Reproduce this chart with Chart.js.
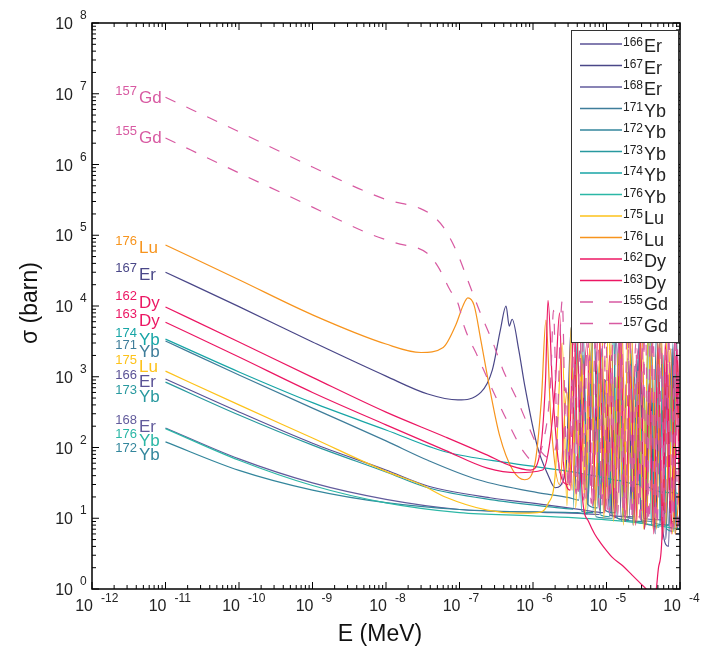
<!DOCTYPE html>
<html>
<head>
<meta charset="utf-8">
<script src="https://cdn.jsdelivr.net/npm/chart.js@4.4.0/dist/chart.umd.min.js"></script>
<style>
  html, body { margin: 0; padding: 0; background: #fff; }
  canvas { display: block; }
</style>
</head>
<body>
<canvas id="myChart" width="705" height="648"></canvas>
<script>
// isotopes in legend order
const massNums = ['166', '167', '168', '171', '172', '173', '174', '176', '175', '176', '162', '163', '155', '157'];
const elements = ['Er', 'Er', 'Er', 'Yb', 'Yb', 'Yb', 'Yb', 'Yb', 'Lu', 'Lu', 'Dy', 'Dy', 'Gd', 'Gd'];

// axis decades
const xDecades = [-12, -11, -10, -9, -8, -7, -6, -5, -4];
const yDecades = [0, 1, 2, 3, 4, 5, 6, 7, 8];

// energies (MeV) and cross sections (barn)
const er166E = [1e-11, 1e-10, 1e-9, 1e-8, 3.7e-8, 2.6e-7, 1.5e-6, 5e-6, 9e-6, 1.05e-5, 1.2e-5, 2.0e-5, 2.5e-5, 3e-5, 4.3e-5, 5.0e-5, 5.8e-5, 7e-5, 7.8e-5, 8.6e-5, 1e-4];
const er166S = [930, 318, 115, 48, 28.6, 19.5, 15.5, 13, 12, 400, 11, 9.5, 1500, 9, 8, 600, 7, 4, 2500, 6, 6];

const er167E = [1e-11, 1e-10, 1e-9, 1e-8, 3.7e-8, 9.5e-8, 1.95e-7, 2.8e-7, 3.6e-7, 4.3e-7, 4.75e-7, 5.2e-7, 6.4e-7, 7.7e-7, 1.15e-6, 1.6e-6, 2.0e-6, 2.8e-6, 3.3e-6, 3.9e-6, 4.8e-6, 5.6e-6, 6.7e-6, 8.0e-6, 9.7e-6, 1.15e-5, 1.35e-5, 1.6e-5, 1.95e-5, 2.3e-5, 2.8e-5, 3.3e-5, 3.9e-5, 4.6e-5, 5.4e-5, 6.4e-5, 7.6e-5, 9e-5, 1e-4];
const er167S = [3.0e4, 9.8e3, 3.1e3, 1.02e3, 570, 470, 600, 1.25e3, 4.6e3, 1.0e4, 5.2e3, 6.5e3, 2.4e3, 760, 102, 41, 27, 48, 5000, 22, 2000, 16, 6000, 13, 900, 11, 4000, 9, 1800, 8, 3500, 7, 1000, 6, 4000, 5, 1500, 7, 12];

const er168E = [1e-11, 1e-10, 1e-9, 1e-8, 1e-7, 1e-6, 5e-6, 8e-6, 9.5e-6, 1.1e-5, 2.4e-5, 2.8e-5, 3.2e-5, 6e-5, 6.8e-5, 7.6e-5, 1e-4];
const er168S = [189, 69, 31.6, 18.5, 13.3, 12.2, 11.6, 11.3, 600, 11, 10.5, 2000, 10, 9.5, 1200, 9, 9];

const yb171E = [1e-11, 1e-10, 1e-9, 1e-8, 3.7e-8, 1.8e-7, 1.15e-6, 3.1e-6, 4.2e-6, 4.8e-6, 5.5e-6, 7.5e-6, 8.5e-6, 9.6e-6, 1.3e-5, 1.5e-5, 1.7e-5, 2.3e-5, 2.6e-5, 3.0e-5, 4.2e-5, 4.8e-5, 5.5e-5, 7e-5, 8e-5, 9e-5, 1e-4];
const yb171S = [3.2e3, 1.06e3, 360, 124, 66, 35, 23, 19.6, 18, 5000, 16, 14, 2500, 13, 12, 6000, 11, 10, 1800, 9.5, 9, 4500, 8.5, 8, 3000, 7.5, 7];

const yb172E = [1e-11, 1e-10, 1e-9, 1e-8, 1e-7, 1e-6, 4e-6, 5.5e-6, 6.3e-6, 7.2e-6, 1.2e-5, 1.45e-5, 1.7e-5, 3.5e-5, 4.0e-5, 4.6e-5, 7e-5, 8e-5, 9e-5, 1e-4];
const yb172S = [120, 47.5, 25, 16.6, 13.3, 12.3, 12, 11.5, 3000, 10.5, 10, 1500, 9.5, 9, 4000, 8.5, 8, 2000, 7.5, 7];

const yb173E = [1e-11, 1e-10, 1e-9, 1e-8, 3.7e-8, 3e-7, 1.7e-6, 3.5e-6, 4.0e-6, 4.6e-6, 6.5e-6, 7.4e-6, 8.4e-6, 1.1e-5, 1.25e-5, 1.4e-5, 1.9e-5, 2.15e-5, 2.4e-5, 3.3e-5, 3.7e-5, 4.1e-5, 5.2e-5, 5.9e-5, 6.6e-5, 8.1e-5, 9e-5, 1e-4];
const yb173S = [840, 288, 108, 45, 27, 18, 14.5, 13.5, 3500, 12.5, 12, 1500, 11, 10.5, 5000, 10, 9.5, 2500, 9, 8.5, 6000, 8, 7.5, 2000, 7, 6.5, 3500, 6];

const yb174E = [1e-11, 1e-10, 1e-9, 1e-8, 6.4e-8, 5e-7, 4e-6, 1.5e-5, 2.8e-5, 3.2e-5, 3.6e-5, 8.3e-5, 1e-4];
const yb174S = [3.4e3, 1.17e3, 430, 177, 87, 60, 44, 34, 30, 800, 28, 23, 22];

const yb176E = [1e-11, 1e-10, 1e-9, 1e-8, 1e-7, 1e-6, 1e-5, 3e-5, 1e-4];
const yb176S = [185, 66, 29, 16.5, 12.0, 10.8, 9.5, 8.5, 7];

const lu175E = [1e-11, 1e-10, 1e-9, 1e-8, 3e-8, 6.4e-8, 2.4e-7, 6e-7, 1.15e-6, 1.6e-6, 2.0e-6, 2.5e-6, 2.9e-6, 3.3e-6, 3.8e-6, 4.6e-6, 5.2e-6, 6.2e-6, 7.0e-6, 8.0e-6, 9.2e-6, 1.06e-5, 1.25e-5, 1.45e-5, 1.7e-5, 2.0e-5, 2.35e-5, 2.7e-5, 3.2e-5, 3.7e-5, 4.3e-5, 5.0e-5, 5.8e-5, 6.8e-5, 7.9e-5, 9.2e-5, 1e-4];
const lu175S = [1.2e3, 400, 136, 46, 30, 20, 13, 11.8, 12, 16, 40, 3000, 15, 5000, 14, 2000, 12, 7000, 11, 1500, 10, 6000, 9, 2500, 8, 8000, 8, 1200, 7, 5000, 7, 3000, 6, 7000, 6, 2000, 8];

const lu176E = [1e-11, 1e-10, 1e-9, 1e-8, 3e-8, 6e-8, 8.9e-8, 1.12e-7, 1.3e-7, 1.58e-7, 1.95e-7, 2.6e-7, 3.5e-7, 5.3e-7, 7.7e-7, 1.05e-6, 1.3e-6, 1.5e-6, 1.75e-6, 2.3e-6, 2.9e-6, 3.4e-6, 4.3e-6, 5.0e-6, 5.9e-6, 7.2e-6, 8.4e-6, 1.0e-5, 1.15e-5, 1.4e-5, 1.6e-5, 1.9e-5, 2.2e-5, 2.6e-5, 3.0e-5, 3.5e-5, 4.1e-5, 4.8e-5, 5.5e-5, 6.4e-5, 7.4e-5, 8.6e-5, 1e-4];
const lu176S = [7.3e4, 2.35e4, 7.5e3, 2.9e3, 2.2e3, 2.6e3, 5.4e3, 1.02e4, 1.3e4, 1.02e4, 3.3e3, 650, 150, 48, 35, 56, 470, 6.3e3, 245, 30, 600, 25, 6000, 20, 2500, 18, 9000, 15, 3000, 12, 7000, 10, 4000, 9, 8000, 8, 3000, 7, 6000, 8, 2500, 6, 40];

const dy162E = [1e-11, 1e-10, 1e-9, 1e-8, 6.4e-8, 2.4e-7, 5e-7, 9.3e-7, 1.23e-6, 1.48e-6, 1.6e-6, 1.85e-6, 2.3e-6, 3.0e-6, 3.6e-6, 4.2e-6, 5.4e-6, 6.5e-6, 7.8e-6, 9.5e-6, 1.1e-5, 1.3e-5, 1.55e-5, 1.8e-5, 2.1e-5, 2.5e-5, 2.9e-5, 3.3e-5, 3.8e-5, 4.4e-5, 5e-5, 5.8e-5, 6.6e-5, 7.6e-5, 8.6e-5, 1e-4];
const dy162S = [9.7e3, 3.1e3, 980, 316, 141, 78, 55, 48, 78, 890, 1.2e4, 650, 48, 30, 6000, 25, 3000, 15, 8000, 12, 2000, 10, 5000, 9, 1500, 8, 4000, 7, 800, 6, 3000, 5, 2000, 6, 5000, 8];

const dy163E = [1e-11, 1e-10, 1e-9, 1e-8, 6.4e-8, 2.4e-7, 6.2e-7, 1.35e-6, 1.65e-6, 2.0e-6, 2.3e-6, 2.6e-6, 3.2e-6, 3.9e-6, 4.7e-6, 5.7e-6, 6.9e-6, 8.3e-6, 1.0e-5, 1.2e-5, 1.6e-5, 2.2e-5, 2.9e-5, 3.6e-5, 4.1e-5, 4.6e-5, 5.1e-5, 5.7e-5, 6.3e-5, 7.2e-5, 8.2e-5, 9.3e-5, 1e-4];
const dy163S = [5.9e3, 1.9e3, 600, 209, 91, 51, 44, 48, 100, 700, 8000, 60, 25, 4000, 20, 9, 6, 4.5, 3.5, 2.8, 2.2, 1.6, 1.2, 0.95, 0.75, 0.8, 2, 6, 3000, 20, 8, 2000, 30];

const gd155E = [1e-11, 1e-10, 1e-9, 5.7e-9, 1.35e-8, 3.6e-8, 5.1e-8, 7.4e-8, 9.5e-8, 1.17e-7, 1.78e-7, 2.7e-7, 4.6e-7, 7.7e-7, 9.8e-7, 1.35e-6, 1.74e-6, 1.9e-6, 2.1e-6, 2.5e-6, 2.8e-6, 3.2e-6, 3.6e-6, 4.1e-6, 4.6e-6, 5.2e-6, 5.9e-6, 6.7e-6, 7.6e-6, 8.6e-6, 9.8e-6, 1.1e-5, 1.25e-5, 1.42e-5, 1.6e-5, 1.8e-5, 2.05e-5, 2.3e-5, 2.6e-5, 2.95e-5, 3.35e-5, 3.8e-5, 4.3e-5, 4.9e-5, 5.5e-5, 6.2e-5, 7e-5, 8e-5, 9e-5, 1e-4];
const gd155S = [2.37e6, 7.6e5, 2.5e5, 1.07e5, 7.8e4, 5.6e4, 3.6e4, 1.7e4, 1.1e4, 5.0e3, 1.9e3, 716, 222, 83, 66, 110, 890, 8.7e3, 200, 30, 700, 25, 3000, 20, 8000, 18, 2000, 15, 6000, 14, 4000, 12, 9000, 11, 3000, 10, 7000, 10, 2500, 9, 8000, 9, 3500, 8, 6000, 8, 4000, 7, 5000, 9];

const gd157E = [1e-11, 1e-10, 1e-9, 1e-8, 2.9e-8, 4.2e-8, 6e-8, 9.2e-8, 1.3e-7, 1.9e-7, 2.86e-7, 3.9e-7, 6.1e-7, 8.3e-7, 1.24e-6, 1.7e-6, 2.1e-6, 2.35e-6, 2.5e-6, 2.75e-6, 3.05e-6, 3.4e-6, 3.85e-6, 4.35e-6, 4.9e-6, 5.5e-6, 6.2e-6, 7.0e-6, 8.0e-6, 9.1e-6, 1.03e-5, 1.17e-5, 1.33e-5, 1.5e-5, 1.7e-5, 1.93e-5, 2.2e-5, 2.5e-5, 2.8e-5, 3.15e-5, 3.55e-5, 4.0e-5, 4.55e-5, 5.2e-5, 5.85e-5, 6.6e-5, 7.5e-5, 8.5e-5, 9.4e-5, 1e-4];
const gd157S = [8.9e6, 2.9e6, 9.2e5, 3.2e5, 2.4e5, 1.93e5, 1.31e5, 5.8e4, 2.3e4, 8.2e3, 3.0e3, 1.26e3, 470, 222, 92, 71, 126, 4.6e3, 1.2e4, 200, 28, 900, 22, 2500, 18, 7000, 16, 3000, 14, 8000, 13, 2000, 12, 6000, 11, 9000, 10, 3000, 10, 5000, 9, 7000, 9, 2500, 8, 6000, 8, 3000, 7, 8];

const seriesE = [er166E, er167E, er168E, yb171E, yb172E, yb173E, yb174E, yb176E, lu175E, lu176E, dy162E, dy163E, gd155E, gd157E];
const seriesS = [er166S, er167S, er168S, yb171S, yb172S, yb173S, yb174S, yb176S, lu175S, lu176S, dy162S, dy163S, gd155S, gd157S];

// styling
const colors = ['#5a5296', '#4a4788', '#625b9c', '#3e7d9a', '#33869c', '#28999f', '#17a5a6', '#2bb7a6',
                '#fdc21a', '#f7941d', '#ec1763', '#ec1763', '#d85aa2', '#d85aa2'];
const dashed = [false, false, false, false, false, false, false, false, false, false, false, false, true, true];
// baseline shift of the left-hand labels relative to the first point of each curve
const labelShift = [8, 8, 4, 16, 18, 20, 6, 17, 1, 8, 1, 4, 5, 6];

const FONT = "'Liberation Sans', Arial, sans-serif";

const datasets = seriesE.map((es, i) => ({
    label: massNums[i] + elements[i],
    data: es.map((e, j) => ({ x: e, y: seriesS[i][j] })),
    borderColor: colors[i],
    borderWidth: 1.2,
    borderDash: dashed[i] ? [11, 12] : [],
    pointRadius: 0,
    fill: false,
    cubicInterpolationMode: 'monotone',
    order: 13 - i
}));

// draws a raised mass number ending at x, then the element symbol starting at x
function superLabel(ctx, x, y, sup, main, supSize, mainSize, supRise) {
    ctx.textBaseline = 'alphabetic';
    ctx.textAlign = 'left';
    ctx.font = supSize + 'px ' + FONT;
    const ws = ctx.measureText(sup).width;
    ctx.fillText(sup, x - ws - 1, y - supRise);
    ctx.font = mainSize + 'px ' + FONT;
    ctx.fillText(main, x + 1, y);
}

const framePlugin = {
    id: 'frame',
    beforeDraw(chart) {
        const c = chart.ctx;
        c.save();
        c.fillStyle = '#fff';
        c.fillRect(0, 0, chart.width, chart.height);
        c.restore();
    },
    afterDatasetsDraw(chart) {
        const { ctx, chartArea: a, scales: { x, y } } = chart;
        ctx.save();

        // frame
        ctx.strokeStyle = '#000';
        ctx.lineWidth = 1.5;
        ctx.strokeRect(a.left, a.top, a.right - a.left, a.bottom - a.top);

        // ticks on all four sides, pointing inwards
        ctx.lineWidth = 1;
        ctx.beginPath();
        xDecades.forEach((d, k) => {
            const px = x.getPixelForValue(Math.pow(10, d));
            ctx.moveTo(px, a.bottom); ctx.lineTo(px, a.bottom - 7);
            ctx.moveTo(px, a.top); ctx.lineTo(px, a.top + 7);
            if (k < xDecades.length - 1) {
                for (let m = 2; m <= 9; m++) {
                    const pm = x.getPixelForValue(m * Math.pow(10, d));
                    ctx.moveTo(pm, a.bottom); ctx.lineTo(pm, a.bottom - 4);
                    ctx.moveTo(pm, a.top); ctx.lineTo(pm, a.top + 4);
                }
            }
        });
        yDecades.forEach((d, k) => {
            const py = y.getPixelForValue(Math.pow(10, d));
            ctx.moveTo(a.left, py); ctx.lineTo(a.left + 7, py);
            ctx.moveTo(a.right, py); ctx.lineTo(a.right - 7, py);
            if (k < yDecades.length - 1) {
                for (let m = 2; m <= 9; m++) {
                    const pm = y.getPixelForValue(m * Math.pow(10, d));
                    ctx.moveTo(a.left, pm); ctx.lineTo(a.left + 4, pm);
                    ctx.moveTo(a.right, pm); ctx.lineTo(a.right - 4, pm);
                }
            }
        });
        ctx.stroke();

        // tick labels: 10 with raised exponent
        ctx.fillStyle = '#222';
        ctx.textBaseline = 'alphabetic';
        xDecades.forEach(d => {
            const px = x.getPixelForValue(Math.pow(10, d));
            ctx.font = '16px ' + FONT;
            ctx.textAlign = 'right';
            ctx.fillText('10', px + 1, a.bottom + 22);
            ctx.font = '12px ' + FONT;
            ctx.textAlign = 'left';
            ctx.fillText('-' + Math.abs(d), px + 9, a.bottom + 13);
        });
        yDecades.forEach(d => {
            const py = y.getPixelForValue(Math.pow(10, d));
            ctx.font = '16px ' + FONT;
            ctx.textAlign = 'right';
            ctx.fillText('10', a.left - 19, py + 6);
            ctx.font = '12px ' + FONT;
            ctx.textAlign = 'left';
            ctx.fillText(String(d), a.left - 12, py - 4);
        });

        // axis titles
        ctx.fillStyle = '#111';
        ctx.font = '23px ' + FONT;
        ctx.textAlign = 'center';
        ctx.fillText('E (MeV)', (a.left + a.right) / 2 - 6, 641);
        ctx.save();
        ctx.translate(31, 303);
        ctx.rotate(-Math.PI / 2);
        ctx.textBaseline = 'middle';
        ctx.fillText('\u03c3 (barn)', 0, 0);
        ctx.restore();

        // isotope labels at the start of each curve
        seriesE.forEach((es, i) => {
            const py = y.getPixelForValue(seriesS[i][0]) + labelShift[i];
            ctx.fillStyle = colors[i];
            superLabel(ctx, 138, py, massNums[i], elements[i], 13, 17, 8);
        });

        // legend box
        const lx = 571, ly = 30, lw = 107, lh = 312, rowH = 21.5;
        ctx.fillStyle = '#fff';
        ctx.fillRect(lx, ly, lw, lh);
        ctx.strokeStyle = '#333';
        ctx.lineWidth = 1;
        ctx.strokeRect(lx + 0.5, ly + 0.5, lw, lh);
        massNums.forEach((m, i) => {
            const ry = ly + 14 + i * rowH;
            ctx.strokeStyle = colors[i];
            ctx.lineWidth = 1.4;
            ctx.setLineDash(dashed[i] ? [13, 16] : []);
            ctx.beginPath();
            ctx.moveTo(580, ry);
            ctx.lineTo(622, ry);
            ctx.stroke();
            ctx.setLineDash([]);
            ctx.fillStyle = '#222';
            ctx.textAlign = 'left';
            ctx.font = '12px ' + FONT;
            ctx.fillText(m, 623, ry + 2);
            const w = ctx.measureText(m).width;
            ctx.font = '18px ' + FONT;
            ctx.fillText(elements[i], 623 + w + 1, ry + 8);
        });

        ctx.restore();
    }
};

new Chart(document.getElementById('myChart').getContext('2d'), {
    type: 'line',
    data: { datasets },
    options: {
        responsive: false,
        animation: false,
        devicePixelRatio: 1,
        layout: { padding: { left: 92, right: 25, top: 23, bottom: 59 } },
        scales: {
            x: { type: 'logarithmic', min: 1e-12, max: 1e-4, display: false },
            y: { type: 'logarithmic', min: 1, max: 1e8, display: false }
        },
        plugins: { legend: { display: false }, tooltip: { enabled: false } }
    },
    plugins: [framePlugin]
});
</script>
</body>
</html>
